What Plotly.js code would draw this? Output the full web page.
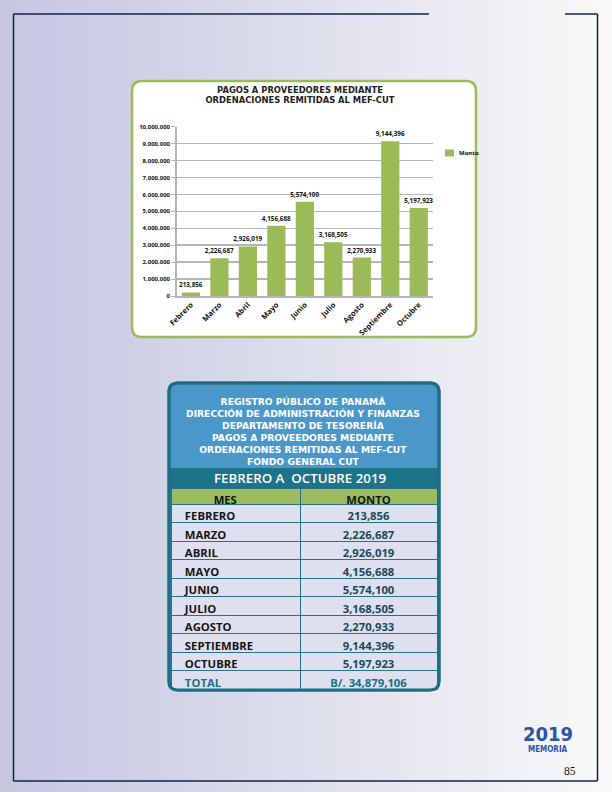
<!DOCTYPE html>
<html>
<head>
<meta charset="utf-8">
<script src="https://cdn.plot.ly/plotly-3.0.1.min.js"></script>
<style>
html,body{margin:0;padding:0;width:612px;height:792px;overflow:hidden;}
body{background:linear-gradient(to right,#c5c7dc 0%,#c9c9e5 6%,#cdd0e5 20%,#d8dae9 40%,#e3e4ef 60%,#eeeff4 80%,#f9f9f9 100%);}
#chart{width:612px;height:792px;}
</style>
</head>
<body>
<div id="chart"></div>
<script>
// ---- data ----
const months = ["Febrero","Marzo","Abril","Mayo","Junio","Julio","Agosto","Septiembre","Octubre"];
const amounts = [213856, 2226687, 2926019, 4156688, 5574100, 3168505, 2270933, 9144396, 5197923];
const totalLabel = "TOTAL";
const totalAmount = 34879106;
const seriesName = "Monto";
const yTickVals = [0, 1000000, 2000000, 3000000, 4000000, 5000000, 6000000, 7000000, 8000000, 9000000, 10000000];
const yTickText = ["0","1,000,000","2,000,000","3,000,000","4,000,000","5,000,000","6,000,000","7,000,000","8,000,000","9,000,000","10,000,000"];
const chartTitle = ["PAGOS A PROVEEDORES MEDIANTE", "ORDENACIONES REMITIDAS AL MEF-CUT"];
const tableTitleLines = ["REGISTRO PÚBLICO DE PANAMÁ","DIRECCIÓN DE ADMINISTRACIÓN Y FINANZAS","DEPARTAMENTO DE TESORERÍA","PAGOS A PROVEEDORES MEDIANTE","ORDENACIONES REMITIDAS AL MEF-CUT","FONDO GENERAL CUT"];
const periodLabel = "FEBRERO A  OCTUBRE 2019";
const tableHeaders = ["MES","MONTO"];
const currencyPrefix = "B/. ";

// ---- helpers ----
const W = 612, H = 792;
const X = p => p / W;
const Y = p => 1 - p / H;
function rr(x0, y0, x1, y1, r) {
  const f = (x, y) => X(x).toFixed(5) + "," + Y(y).toFixed(5);
  return "M" + f(x0 + r, y0) + " L" + f(x1 - r, y0) + " Q" + f(x1, y0) + " " + f(x1, y0 + r) +
    " L" + f(x1, y1 - r) + " Q" + f(x1, y1) + " " + f(x1 - r, y1) +
    " L" + f(x0 + r, y1) + " Q" + f(x0, y1) + " " + f(x0, y1 - r) +
    " L" + f(x0, y0 + r) + " Q" + f(x0, y0) + " " + f(x0 + r, y0) + " Z";
}
const fmt = v => v.toLocaleString("en-US");
const nb = "\u00a0\u00a0";

const GREEN = "#9bbb59", TEAL = "#1c6f86", BLUE = "#4a97c9", NAVY = "#0f2443";
const FONT = "Open Sans, DejaVu Sans, sans-serif";
const DJ = "DejaVu Sans, sans-serif";

// ---- traces ----
const bar = {
  type: "bar", x: months, y: amounts, name: seriesName,
  marker: {color: GREEN}, xaxis: "x", yaxis: "y",
  text: amounts.map(fmt), textposition: "outside", cliponaxis: false, constraintext: "none",
  textfont: {size: 6.3, color: "#111", family: FONT, weight: "bold"},
  hoverinfo: "x+y", showlegend: false
};

const col1 = months.map(m => nb + m.toUpperCase()).concat([nb + totalLabel]);
const col2 = amounts.map(fmt).concat([currencyPrefix + fmt(totalAmount)]);
const n = col1.length;
const c1 = col1.map((_, i) => i === n - 1 ? TEAL : "#141414");
const c2 = col2.map((_, i) => i === n - 1 ? TEAL : "#1a4a58");

const table = {
  type: "table",
  domain: {x: [X(171), X(437)], y: [Y(690), Y(488)]},
  columnwidth: [129, 137],
  header: {
    values: [[tableHeaders[0] + "\u00a0\u00a0\u00a0\u00a0\u00a0\u00a0\u00a0"], [tableHeaders[1]]],
    fill: {color: "#9dbb61"}, line: {color: "#2a7084", width: 1},
    font: {family: FONT, size: 11.3, color: "#141414", weight: "bold"}, height: 16, align: "center"
  },
  cells: {
    values: [col1, col2],
    fill: {color: "#dfe0ef"}, line: {color: "#2a7084", width: 1},
    font: {family: FONT, size: 11.3, color: [c1, c2], weight: "bold"},
    height: 18.5, align: ["left", "center"]
  }
};

// ---- shapes ----
const shapes = [
  {type: "line", xref: "paper", yref: "paper", x0: X(13.5), x1: X(429), y0: Y(14), y1: Y(14), line: {color: NAVY, width: 1.5}, layer: "below"},
  {type: "line", xref: "paper", yref: "paper", x0: X(565), x1: X(597.5), y0: Y(14), y1: Y(14), line: {color: NAVY, width: 1.5}, layer: "below"},
  {type: "line", xref: "paper", yref: "paper", x0: X(13.5), x1: X(13.5), y0: Y(14), y1: Y(781), line: {color: NAVY, width: 1.5}, layer: "below"},
  {type: "line", xref: "paper", yref: "paper", x0: X(597.5), x1: X(597.5), y0: Y(14), y1: Y(781), line: {color: NAVY, width: 1.5}, layer: "below"},
  {type: "line", xref: "paper", yref: "paper", x0: X(13.5), x1: X(597.5), y0: Y(781), y1: Y(781), line: {color: NAVY, width: 1.5}, layer: "below"},
  {type: "path", xref: "paper", yref: "paper", path: rr(132, 81, 476, 337, 10), fillcolor: "#ffffff", line: {color: GREEN, width: 2.5}, layer: "below"},
  {type: "path", xref: "paper", yref: "paper", path: rr(169, 383, 439, 690, 9), fillcolor: BLUE, line: {color: TEAL, width: 3}, layer: "below"},
  {type: "rect", xref: "paper", yref: "paper", x0: X(169), x1: X(439), y0: Y(488), y1: Y(468), fillcolor: "#1d7387", line: {width: 0}, layer: "below"},
  {type: "path", xref: "paper", yref: "paper", path: rr(169, 383, 439, 690, 9), line: {color: TEAL, width: 3}, layer: "above"},
  {type: "rect", xref: "paper", yref: "paper", x0: X(445), x1: X(454), y0: Y(156.5), y1: Y(149.5), fillcolor: GREEN, line: {width: 0}, layer: "above"}
];

// ---- annotations ----
const annotations = [];
annotations.push({xref: "paper", yref: "paper", x: X(303), y: Y(431), text: tableTitleLines.map(t => "<b>" + t + "</b>").join("<br>"),
  showarrow: false, xanchor: "center", yanchor: "middle", align: "center",
  font: {family: DJ, size: 9.2, color: "#ffffff"}});
annotations.push({xref: "paper", yref: "paper", x: X(300), y: Y(478), text: periodLabel, showarrow: false,
  xanchor: "center", yanchor: "middle", font: {family: FONT, size: 13.3, color: "#ffffff", weight: 600}});
annotations.push({xref: "paper", yref: "paper", x: X(457), y: Y(153), text: seriesName, showarrow: false,
  xanchor: "left", yanchor: "middle", font: {family: FONT, size: 6, color: "#111", weight: "bold"}});
annotations.push({xref: "paper", yref: "paper", x: X(547.5), y: Y(734), text: "<b>2019</b>", showarrow: false,
  xanchor: "center", yanchor: "middle", font: {family: "DejaVu Sans Condensed, DejaVu Sans, sans-serif", size: 20, color: "#2d55a3"}});
annotations.push({xref: "paper", yref: "paper", x: X(547.5), y: Y(749.5), text: "<b>MEMORIA</b>", showarrow: false,
  xanchor: "center", yanchor: "middle", font: {family: "DejaVu Sans Condensed, DejaVu Sans, sans-serif", size: 8, color: "#2d55a3"}});
annotations.push({xref: "paper", yref: "paper", x: X(570), y: Y(771), text: "85", showarrow: false,
  xanchor: "center", yanchor: "middle", font: {family: "Liberation Serif, DejaVu Serif, serif", size: 11.5, color: "#111", weight: "normal"}});

// ---- layout ----
const layout = {
  width: W, height: H, autosize: false,
  margin: {l: 0, r: 0, t: 0, b: 0, pad: 0},
  separators: ".,",
  paper_bgcolor: "rgba(0,0,0,0)", plot_bgcolor: "rgba(0,0,0,0)",
  font: {family: FONT, color: "#111", weight: "bold"},
  title: {text: chartTitle.join("<br>"), x: X(300), xanchor: "center", xref: "paper",
    y: Y(92.5), yanchor: "top", yref: "container",
    font: {family: DJ, size: 8.4, color: "#222", weight: "bold"}},
  showlegend: false,
  bargap: 0.36,
  xaxis: {domain: [X(176.7), X(433)], type: "category", tickangle: -45, showline: true,
    linecolor: "#b5b5b5", linewidth: 1.5, ticks: "", showgrid: false, fixedrange: true,
    tickfont: {family: FONT, size: 7.5, color: "#111", weight: "bold"}, anchor: "y"},
  yaxis: {domain: [Y(296), Y(126.7)], range: [0, 10000000], tickmode: "array", tickvals: yTickVals, ticktext: yTickText,
    showgrid: true, gridcolor: "#b5b5b5", gridwidth: 1.5, showline: true, linecolor: "#b5b5b5", linewidth: 1.5,
    ticks: "outside", ticklen: 4, tickcolor: "#b5b5b5", zeroline: false, fixedrange: true, anchor: "x",
    tickfont: {family: FONT, size: 6, color: "#111", weight: "bold"}},
  shapes: shapes,
  annotations: annotations
};

Plotly.newPlot("chart", [bar, table], layout, {staticPlot: true, displayModeBar: false});
</script>
</body>
</html>
